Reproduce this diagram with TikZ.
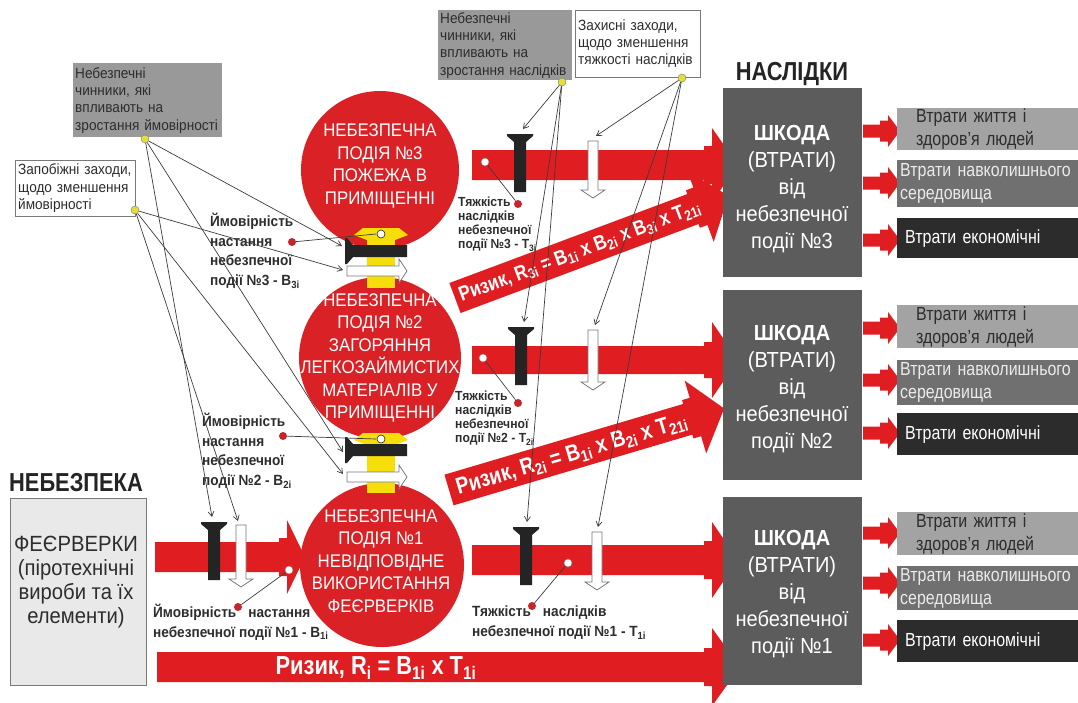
\documentclass[tikz,border=0pt]{standalone}
\usepackage{fontspec}
\setmainfont{Liberation Sans}
\newfontfamily\narrowfont[FakeStretch=0.84]{Liberation Sans}
\newfontfamily\labelfont[FakeStretch=0.92]{Liberation Sans}
\usetikzlibrary{arrows.meta}

\definecolor{riskred}{RGB}{224,30,34}
\definecolor{eventred}{RGB}{218,34,38}
\definecolor{boltyellow}{RGB}{245,222,10}
\definecolor{boltblack}{RGB}{36,36,36}
\definecolor{barline}{RGB}{120,120,120}
\definecolor{dmggrey}{RGB}{92,92,92}
\definecolor{lossa}{RGB}{163,163,163}
\definecolor{lossb}{RGB}{112,112,112}
\definecolor{lossc}{RGB}{44,44,44}
\definecolor{factgrey}{RGB}{153,153,153}
\definecolor{hazfill}{RGB}{233,233,233}
\definecolor{linegrey}{RGB}{60,60,60}
\definecolor{labeltext}{RGB}{45,45,45}
\definecolor{dotyellow}{RGB}{228,222,60}
\definecolor{dotred}{RGB}{196,38,44}

\begin{document}
\begin{tikzpicture}[x=1pt, y=-1pt,
    pics/fatarrow/.style n args={4}{code={
      \fill[riskred] (0,-#2) -- ({#1-#4-8},-#2) -- ({#1-#4-8},{-#2-4}) -- ({#1-#4},{-#2-4})
        -- ({#1-#4},-#3) -- (#1,0) -- ({#1-#4},#3) -- ({#1-#4},{#2+4})
        -- ({#1-#4-8},{#2+4}) -- ({#1-#4-8},#2) -- (0,#2) -- cycle;}},
    pics/blackbolt/.style={code={
      \fill[boltblack] (-13,0) -- (13,0) -- (13,2) -- (6,8) -- (6,#1) -- (-6,#1) -- (-6,8) -- (-13,2) -- cycle;}},
    pics/whitebar/.style={code={
      \filldraw[fill=white, draw=barline, line width=0.8pt] (-5,0) -- (5,0) -- (5,{#1-8}) -- (12,{#1-8})
        -- (0,#1) -- (-12,{#1-8}) -- (-5,{#1-8}) -- cycle;}},
    pics/yellowup/.style={code={
      \fill[boltyellow] (-14,0) rectangle (14,60);
      \fill[boltyellow] (-18,0) -- (18,0) -- (27,7) -- (14,12) -- (-14,12) -- (-27,7) -- cycle;
      \filldraw[fill=white, draw=boltblack, line width=0.6pt] (0,6) circle (4pt);}},
    evt/.style={circle, fill=eventred, inner sep=0pt, minimum size=#1},
    evttext/.style={text=white, align=center, inner sep=0pt, font=\labelfont\fontsize{18.3}{22.5}\selectfont},
    dmg/.style={fill=dmggrey, anchor=north west, minimum width=139},
    dmgtext/.style={text=white, align=center, inner sep=0pt, font=\labelfont\fontsize{21.8}{27}\selectfont},
    loss/.style={anchor=north west, align=left, inner ysep=0pt, font=\narrowfont\fontsize{19}{23}\selectfont},
    lossA/.style={loss, fill=lossa, text=labeltext, inner xsep=19, text width=143},
    lossB/.style={loss, fill=lossb, text=white!92!black, inner xsep=3, text width=175},
    lossC/.style={loss, fill=lossc, text=white, inner xsep=8, text width=165},
    factbox/.style={fill=factgrey, text=labeltext, anchor=north west, align=left, inner xsep=2, inner ysep=0pt,
                    font=\labelfont\fontsize{14.8}{17.3}\selectfont},
    measbox/.style={fill=white, draw=barline, text=labeltext, anchor=north west, align=left, inner xsep=3,
                    inner ysep=0pt, font=\labelfont\fontsize{14.8}{17.3}\selectfont},
    lbl/.style={text=labeltext, align=left, anchor=west, inner sep=0pt,
                font=\labelfont\bfseries\fontsize{14.8}{19.5}\selectfont},
    lblsmall/.style={lbl, font=\labelfont\bfseries\fontsize{13.2}{14}\selectfont},
    head/.style={text=boltblack, inner sep=0pt, font=\narrowfont\bfseries\fontsize{26}{28}\selectfont},
    risktext/.style={text=white, inner sep=0pt, font=\narrowfont\bfseries\fontsize{22}{24}\selectfont},
    ydot/.style={circle, fill=dotyellow, draw=barline, inner sep=0pt, minimum size=8},
    rdot/.style={circle, fill=dotred, inner sep=0pt, minimum size=8},
    wdot/.style={circle, fill=white, draw=barline, inner sep=0pt, minimum size=8},
    ptr/.style={draw=linegrey, line width=0.7pt, -{Straight Barb[length=5pt, width=6pt]}},
    lead/.style={draw=linegrey, line width=0.7pt}
  ]
  \useasboundingbox (0,0) rectangle (1078,702);
  \fill[white] (0,0) rectangle (1078,702);

  % red flows
  \pic at (155,557) {fatarrow={150}{15}{37}{18}};
  \pic at (157,667) {fatarrow={583}{15}{39}{28}};
  \pic at (472,165) {fatarrow={266}{15}{37}{26}};
  \pic at (472,360) {fatarrow={266}{14}{38}{26}};
  \pic at (472,560) {fatarrow={266}{15}{38}{26}};
  \pic[rotate=20.5] at (455,298) {fatarrow={292}{16}{38}{30}};
  \node[risktext, rotate=20.5, font=\narrowfont\bfseries\fontsize{20.5}{22}\selectfont] (risk3) at (580,252)
    {Ризик, R\textsubscript{3i} = B\textsubscript{1i} x B\textsubscript{2i} x B\textsubscript{3i} x T\textsubscript{21i}};
  \pic[rotate=16.5] at (449,490) {fatarrow={287}{16}{38}{30}};
  \node[risktext, rotate=16.5, font=\narrowfont\bfseries\fontsize{23}{25}\selectfont] (risk2) at (572,455)
    {Ризик, R\textsubscript{2i} = B\textsubscript{1i} x B\textsubscript{2i} x T\textsubscript{21i}};
  \node[risktext, font=\narrowfont\bfseries\fontsize{26}{28}\selectfont] (risk1) at (376,668)
    {Ризик, R\textsubscript{i} = B\textsubscript{1i} x T\textsubscript{1i}};

  % loss arrows
  \pic at (863,131) {fatarrow={37}{6.5}{16}{12}};
  \pic at (863,183) {fatarrow={37}{6.5}{16}{12}};
  \pic at (863,240) {fatarrow={37}{6.5}{16}{12}};
  \pic at (863,328) {fatarrow={37}{6.5}{16}{12}};
  \pic at (863,380) {fatarrow={37}{6.5}{16}{12}};
  \pic at (863,433) {fatarrow={37}{6.5}{16}{12}};
  \pic at (863,533) {fatarrow={37}{6.5}{16}{12}};
  \pic at (863,583) {fatarrow={37}{6.5}{16}{12}};
  \pic at (863,640) {fatarrow={37}{6.5}{16}{12}};

  % events
  \node[evt=158] (ev3) at (380,170) {};
  \node[evt=162] (ev2) at (380,358) {};
  \node[evt=164] (ev1) at (382,565) {};
  \pic at (381,228) {yellowup};
  \pic[rotate=90] at (345,251) {blackbolt=62};
  \pic[rotate=90] at (347,271) {whitebar=60};
  \pic at (381,433) {yellowup};
  \pic[rotate=90] at (345,450) {blackbolt=62};
  \pic[rotate=90] at (347,477) {whitebar=60};
  \node[evttext] (ev3t) at (380,166) {НЕБЕЗПЕЧНА\\ПОДІЯ №3\\ПОЖЕЖА В\\ПРИМІЩЕННІ};
  \node[evttext] (ev2t) at (380,358) {НЕБЕЗПЕЧНА\\ПОДІЯ №2\\ЗАГОРЯННЯ\\ЛЕГКОЗАЙМИСТИХ\\МАТЕРІАЛІВ У\\ПРИМІЩЕННІ};
  \node[evttext] (ev1t) at (381,561) {НЕБЕЗПЕЧНА\\ПОДІЯ №1\\НЕВІДПОВІДНЕ\\ВИКОРИСТАННЯ\\ФЕЄРВЕРКІВ};

  % barriers on the flows
  \pic at (214,522) {blackbolt=58};
  \pic at (241,525) {whitebar=62};
  \pic at (520,134) {blackbolt=58};
  \pic at (593,141) {whitebar=57};
  \pic at (521,327) {blackbolt=58};
  \pic at (593,330) {whitebar=60};
  \pic at (526,527) {blackbolt=58};
  \pic at (597,532) {whitebar=58};

  % hazard and consequences
  \node[head] (haz) at (76,483) {НЕБЕЗПЕКА};
  \node[draw=barline, fill=hazfill, anchor=north west, minimum width=136, minimum height=187] (hz) at (10,498) {};
  \node[text=labeltext, align=center, inner sep=0pt, font=\labelfont\fontsize{22}{24}\selectfont] (hzt) at (76,582)
    {ФЕЄРВЕРКИ\\(піротехнічні\\вироби та їх\\елементи)};
  \node[head] (cons) at (792,74) {НАСЛІДКИ};
  \node[dmg, minimum height=189] (dmg3) at (723,88) {};
  \node[dmg, minimum height=190] (dmg2) at (723,290) {};
  \node[dmg, minimum height=188] (dmg1) at (723,497) {};
  \node[dmgtext] (dmg3t) at (792,189) {\textbf{ШКОДА}\\(ВТРАТИ)\\від\\небезпечної\\події №3};
  \node[dmgtext] (dmg2t) at (792,389) {\textbf{ШКОДА}\\(ВТРАТИ)\\від\\небезпечної\\події №2};
  \node[dmgtext] (dmg1t) at (792,594) {\textbf{ШКОДА}\\(ВТРАТИ)\\від\\небезпечної\\події №1};
  \node[lossA, minimum height=42] (lost3a) at (897,108) {Втрати життя і\\здоров’я людей};
  \node[lossB, minimum height=47] (lost3b) at (897,160) {Втрати навколишнього\\середовища};
  \node[lossC, minimum height=40] (lost3c) at (897,218) {Втрати економічні};
  \node[lossA, minimum height=43] (lost2a) at (897,305) {Втрати життя і\\здоров’я людей};
  \node[lossB, minimum height=45] (lost2b) at (897,360) {Втрати навколишнього\\середовища};
  \node[lossC, minimum height=42] (lost2c) at (897,413) {Втрати економічні};
  \node[lossA, minimum height=43] (lost1a) at (897,512) {Втрати життя і\\здоров’я людей};
  \node[lossB, minimum height=44] (lost1b) at (897,566) {Втрати навколишнього\\середовища};
  \node[lossC, minimum height=42] (lost1c) at (897,620) {Втрати економічні};

  % factors and measures
  \node[factbox, text width=145, minimum height=74] (factp) at (73,63)
    {Небезпечні\\чинники, які\\впливають на\\зростання ймовірності};
  \node[measbox, text width=114, minimum height=56] (measp) at (15,160)
    {Запобіжні заходи,\\щодо зменшення\\ймовірності};
  \node[factbox, text width=130, minimum height=70] (factc) at (438,10)
    {Небезпечні\\чинники, які\\впливають на\\зростання наслідків};
  \node[measbox, text width=119, minimum height=67] (measc) at (575,10)
    {Захисні заходи,\\щодо зменшення\\тяжкості наслідків};

  \coordinate (pb3) at (342,246);
  \coordinate (pw3) at (343,270);
  \coordinate (pb2) at (343,452);
  \coordinate (pw2) at (343,474);
  \coordinate (pb1) at (212,517);
  \coordinate (pw1) at (238,521);
  \coordinate (cb3) at (523,129);
  \coordinate (cw3) at (596,136);
  \coordinate (cb2) at (524,322);
  \coordinate (cw2) at (595,325);
  \coordinate (cb1) at (527,522);
  \coordinate (cw1) at (598,527);
  \coordinate (y3) at (376,234);
  \coordinate (y2) at (376,439);

  % labels
  \node[lbl] (lp3) at (210,251) {Ймовірність\\настання\\небезпечної\\події №3 - B\textsubscript{3i}};
  \node[lbl] (lp2) at (202,451) {Ймовірність\\настання\\небезпечної\\події №2 - B\textsubscript{2i}};
  \node[lbl, font=\labelfont\bfseries\fontsize{14.8}{20}\selectfont] (lp1) at (153,622)
    {Ймовірність\hspace{12pt}настання\\небезпечної події №1 - B\textsubscript{1i}};
  \node[lblsmall] (lc3) at (458,224) {Тяжкість\\наслідків\\небезпечної\\події №3 - T\textsubscript{3i}};
  \node[lblsmall] (lc2) at (455,418) {Тяжкість\\наслідків\\небезпечної\\події №2 - T\textsubscript{2i}};
  \node[lbl, font=\labelfont\bfseries\fontsize{14.8}{20}\selectfont] (lc1) at (472,623)
    {Тяжкість\hspace{12pt}наслідків\\небезпечної події №1 - T\textsubscript{1i}};

  \node[ydot] (gl) at (145,139) {};
  \node[ydot] (wl) at (135,210) {};
  \node[ydot] (gm) at (562,82) {};
  \node[ydot] (wm) at (682,78) {};
  \node[rdot] (rp3) at (292,242) {};
  \node[rdot] (rp2) at (283,436) {};
  \node[rdot] (rp1) at (238,607) {};
  \node[rdot] (rc3) at (518,204) {};
  \node[rdot] (rc2) at (518,403) {};
  \node[rdot] (rc1) at (532,606) {};
  \node[wdot] (wp1) at (289,570) {};
  \node[wdot] (wc3) at (485,162) {};
  \node[wdot] (wc2) at (483,358) {};
  \node[wdot] (wc1) at (568,563) {};

  \draw[ptr] (gl) -- (pb3);
  \draw[ptr] (gl) -- (pb2);
  \draw[ptr] (gl) -- (pb1);
  \draw[ptr] (wl) -- (pw3);
  \draw[ptr] (wl) -- (pw2);
  \draw[ptr] (wl) -- (pw1);
  \draw[ptr] (gm) -- (cb3);
  \draw[ptr] (gm) -- (cb2);
  \draw[ptr] (gm) -- (cb1);
  \draw[ptr] (wm) -- (cw3);
  \draw[ptr] (wm) -- (cw2);
  \draw[ptr] (wm) -- (cw1);
  \draw[lead] (rp3) -- (y3);
  \draw[lead] (rp2) -- (y2);
  \draw[lead] (rp1) -- (wp1);
  \draw[lead] (rc3) -- (wc3);
  \draw[lead] (rc2) -- (wc2);
  \draw[lead] (rc1) -- (wc1);
\end{tikzpicture}
\end{document}
